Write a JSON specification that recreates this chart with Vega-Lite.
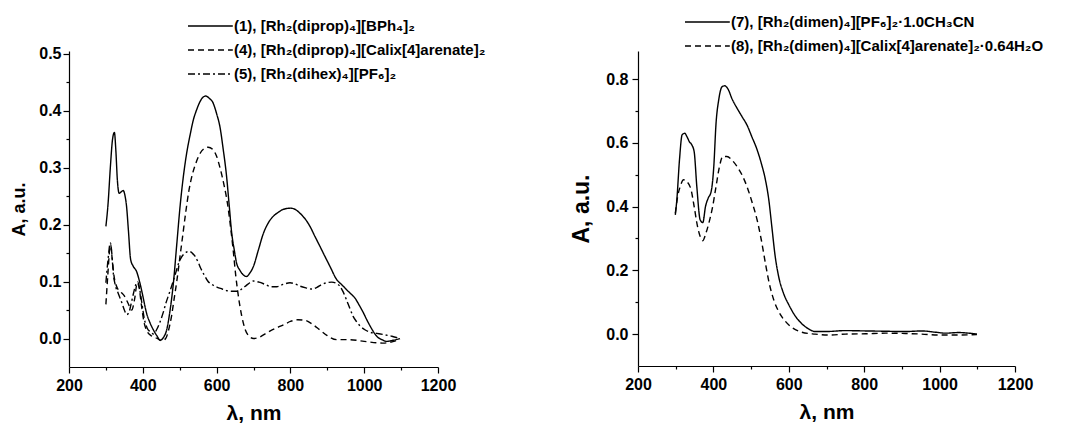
{
  "$schema": "https://vega.github.io/schema/vega-lite/v6.json",
  "padding": {"left": 10, "top": 14, "right": 0, "bottom": 0},
  "spacing": 84,
  "datasets": {
    "left": [
      {"s": "(1), [Rh₂(diprop)₄][BPh₄]₂", "x": 300, "y": 0.197},
      {"s": "(1), [Rh₂(diprop)₄][BPh₄]₂", "x": 306, "y": 0.238},
      {"s": "(1), [Rh₂(diprop)₄][BPh₄]₂", "x": 312, "y": 0.3},
      {"s": "(1), [Rh₂(diprop)₄][BPh₄]₂", "x": 318, "y": 0.35},
      {"s": "(1), [Rh₂(diprop)₄][BPh₄]₂", "x": 323, "y": 0.362},
      {"s": "(1), [Rh₂(diprop)₄][BPh₄]₂", "x": 327, "y": 0.33},
      {"s": "(1), [Rh₂(diprop)₄][BPh₄]₂", "x": 331, "y": 0.279},
      {"s": "(1), [Rh₂(diprop)₄][BPh₄]₂", "x": 336, "y": 0.255},
      {"s": "(1), [Rh₂(diprop)₄][BPh₄]₂", "x": 342, "y": 0.258},
      {"s": "(1), [Rh₂(diprop)₄][BPh₄]₂", "x": 347, "y": 0.26},
      {"s": "(1), [Rh₂(diprop)₄][BPh₄]₂", "x": 352, "y": 0.25},
      {"s": "(1), [Rh₂(diprop)₄][BPh₄]₂", "x": 356, "y": 0.232},
      {"s": "(1), [Rh₂(diprop)₄][BPh₄]₂", "x": 361, "y": 0.19},
      {"s": "(1), [Rh₂(diprop)₄][BPh₄]₂", "x": 367, "y": 0.139},
      {"s": "(1), [Rh₂(diprop)₄][BPh₄]₂", "x": 374, "y": 0.127},
      {"s": "(1), [Rh₂(diprop)₄][BPh₄]₂", "x": 383, "y": 0.118},
      {"s": "(1), [Rh₂(diprop)₄][BPh₄]₂", "x": 392, "y": 0.098},
      {"s": "(1), [Rh₂(diprop)₄][BPh₄]₂", "x": 400, "y": 0.075},
      {"s": "(1), [Rh₂(diprop)₄][BPh₄]₂", "x": 410, "y": 0.045},
      {"s": "(1), [Rh₂(diprop)₄][BPh₄]₂", "x": 420, "y": 0.027},
      {"s": "(1), [Rh₂(diprop)₄][BPh₄]₂", "x": 428, "y": 0.016},
      {"s": "(1), [Rh₂(diprop)₄][BPh₄]₂", "x": 438, "y": 0.005},
      {"s": "(1), [Rh₂(diprop)₄][BPh₄]₂", "x": 447, "y": -0.003},
      {"s": "(1), [Rh₂(diprop)₄][BPh₄]₂", "x": 456, "y": 0.002},
      {"s": "(1), [Rh₂(diprop)₄][BPh₄]₂", "x": 465, "y": 0.016},
      {"s": "(1), [Rh₂(diprop)₄][BPh₄]₂", "x": 474, "y": 0.05},
      {"s": "(1), [Rh₂(diprop)₄][BPh₄]₂", "x": 483, "y": 0.098},
      {"s": "(1), [Rh₂(diprop)₄][BPh₄]₂", "x": 492, "y": 0.165},
      {"s": "(1), [Rh₂(diprop)₄][BPh₄]₂", "x": 501, "y": 0.232},
      {"s": "(1), [Rh₂(diprop)₄][BPh₄]₂", "x": 510, "y": 0.285},
      {"s": "(1), [Rh₂(diprop)₄][BPh₄]₂", "x": 519, "y": 0.326},
      {"s": "(1), [Rh₂(diprop)₄][BPh₄]₂", "x": 528, "y": 0.357},
      {"s": "(1), [Rh₂(diprop)₄][BPh₄]₂", "x": 537, "y": 0.384},
      {"s": "(1), [Rh₂(diprop)₄][BPh₄]₂", "x": 546, "y": 0.402},
      {"s": "(1), [Rh₂(diprop)₄][BPh₄]₂", "x": 555, "y": 0.416},
      {"s": "(1), [Rh₂(diprop)₄][BPh₄]₂", "x": 562, "y": 0.423},
      {"s": "(1), [Rh₂(diprop)₄][BPh₄]₂", "x": 570, "y": 0.426},
      {"s": "(1), [Rh₂(diprop)₄][BPh₄]₂", "x": 580, "y": 0.422},
      {"s": "(1), [Rh₂(diprop)₄][BPh₄]₂", "x": 591, "y": 0.413},
      {"s": "(1), [Rh₂(diprop)₄][BPh₄]₂", "x": 600, "y": 0.395},
      {"s": "(1), [Rh₂(diprop)₄][BPh₄]₂", "x": 609, "y": 0.372},
      {"s": "(1), [Rh₂(diprop)₄][BPh₄]₂", "x": 618, "y": 0.332},
      {"s": "(1), [Rh₂(diprop)₄][BPh₄]₂", "x": 627, "y": 0.285},
      {"s": "(1), [Rh₂(diprop)₄][BPh₄]₂", "x": 634, "y": 0.235},
      {"s": "(1), [Rh₂(diprop)₄][BPh₄]₂", "x": 641, "y": 0.185},
      {"s": "(1), [Rh₂(diprop)₄][BPh₄]₂", "x": 648, "y": 0.155},
      {"s": "(1), [Rh₂(diprop)₄][BPh₄]₂", "x": 654, "y": 0.133},
      {"s": "(1), [Rh₂(diprop)₄][BPh₄]₂", "x": 663, "y": 0.12},
      {"s": "(1), [Rh₂(diprop)₄][BPh₄]₂", "x": 672, "y": 0.112},
      {"s": "(1), [Rh₂(diprop)₄][BPh₄]₂", "x": 681, "y": 0.109},
      {"s": "(1), [Rh₂(diprop)₄][BPh₄]₂", "x": 690, "y": 0.115},
      {"s": "(1), [Rh₂(diprop)₄][BPh₄]₂", "x": 700, "y": 0.127},
      {"s": "(1), [Rh₂(diprop)₄][BPh₄]₂", "x": 713, "y": 0.155},
      {"s": "(1), [Rh₂(diprop)₄][BPh₄]₂", "x": 727, "y": 0.185},
      {"s": "(1), [Rh₂(diprop)₄][BPh₄]₂", "x": 740, "y": 0.203},
      {"s": "(1), [Rh₂(diprop)₄][BPh₄]₂", "x": 754, "y": 0.215},
      {"s": "(1), [Rh₂(diprop)₄][BPh₄]₂", "x": 768, "y": 0.222},
      {"s": "(1), [Rh₂(diprop)₄][BPh₄]₂", "x": 781, "y": 0.227},
      {"s": "(1), [Rh₂(diprop)₄][BPh₄]₂", "x": 801, "y": 0.229},
      {"s": "(1), [Rh₂(diprop)₄][BPh₄]₂", "x": 815, "y": 0.226},
      {"s": "(1), [Rh₂(diprop)₄][BPh₄]₂", "x": 826, "y": 0.22},
      {"s": "(1), [Rh₂(diprop)₄][BPh₄]₂", "x": 840, "y": 0.21},
      {"s": "(1), [Rh₂(diprop)₄][BPh₄]₂", "x": 853, "y": 0.197},
      {"s": "(1), [Rh₂(diprop)₄][BPh₄]₂", "x": 866, "y": 0.18},
      {"s": "(1), [Rh₂(diprop)₄][BPh₄]₂", "x": 880, "y": 0.162},
      {"s": "(1), [Rh₂(diprop)₄][BPh₄]₂", "x": 893, "y": 0.145},
      {"s": "(1), [Rh₂(diprop)₄][BPh₄]₂", "x": 907, "y": 0.127},
      {"s": "(1), [Rh₂(diprop)₄][BPh₄]₂", "x": 925, "y": 0.104},
      {"s": "(1), [Rh₂(diprop)₄][BPh₄]₂", "x": 940, "y": 0.094},
      {"s": "(1), [Rh₂(diprop)₄][BPh₄]₂", "x": 952, "y": 0.086},
      {"s": "(1), [Rh₂(diprop)₄][BPh₄]₂", "x": 963, "y": 0.079},
      {"s": "(1), [Rh₂(diprop)₄][BPh₄]₂", "x": 975, "y": 0.071},
      {"s": "(1), [Rh₂(diprop)₄][BPh₄]₂", "x": 987, "y": 0.058},
      {"s": "(1), [Rh₂(diprop)₄][BPh₄]₂", "x": 998, "y": 0.045},
      {"s": "(1), [Rh₂(diprop)₄][BPh₄]₂", "x": 1007, "y": 0.033},
      {"s": "(1), [Rh₂(diprop)₄][BPh₄]₂", "x": 1016, "y": 0.022},
      {"s": "(1), [Rh₂(diprop)₄][BPh₄]₂", "x": 1025, "y": 0.012},
      {"s": "(1), [Rh₂(diprop)₄][BPh₄]₂", "x": 1034, "y": 0.004},
      {"s": "(1), [Rh₂(diprop)₄][BPh₄]₂", "x": 1048, "y": -0.002},
      {"s": "(1), [Rh₂(diprop)₄][BPh₄]₂", "x": 1061, "y": -0.005},
      {"s": "(1), [Rh₂(diprop)₄][BPh₄]₂", "x": 1079, "y": -0.003},
      {"s": "(1), [Rh₂(diprop)₄][BPh₄]₂", "x": 1097, "y": 0.0},

      {"s": "(4), [Rh₂(diprop)₄][Calix[4]arenate]₂", "x": 300, "y": 0.06},
      {"s": "(4), [Rh₂(diprop)₄][Calix[4]arenate]₂", "x": 305, "y": 0.11},
      {"s": "(4), [Rh₂(diprop)₄][Calix[4]arenate]₂", "x": 310, "y": 0.155},
      {"s": "(4), [Rh₂(diprop)₄][Calix[4]arenate]₂", "x": 313, "y": 0.165},
      {"s": "(4), [Rh₂(diprop)₄][Calix[4]arenate]₂", "x": 317, "y": 0.14},
      {"s": "(4), [Rh₂(diprop)₄][Calix[4]arenate]₂", "x": 322, "y": 0.11},
      {"s": "(4), [Rh₂(diprop)₄][Calix[4]arenate]₂", "x": 330, "y": 0.09},
      {"s": "(4), [Rh₂(diprop)₄][Calix[4]arenate]₂", "x": 340, "y": 0.082},
      {"s": "(4), [Rh₂(diprop)₄][Calix[4]arenate]₂", "x": 350, "y": 0.075},
      {"s": "(4), [Rh₂(diprop)₄][Calix[4]arenate]₂", "x": 360, "y": 0.062},
      {"s": "(4), [Rh₂(diprop)₄][Calix[4]arenate]₂", "x": 370, "y": 0.05},
      {"s": "(4), [Rh₂(diprop)₄][Calix[4]arenate]₂", "x": 378, "y": 0.07},
      {"s": "(4), [Rh₂(diprop)₄][Calix[4]arenate]₂", "x": 385, "y": 0.098},
      {"s": "(4), [Rh₂(diprop)₄][Calix[4]arenate]₂", "x": 390, "y": 0.09},
      {"s": "(4), [Rh₂(diprop)₄][Calix[4]arenate]₂", "x": 396, "y": 0.06},
      {"s": "(4), [Rh₂(diprop)₄][Calix[4]arenate]₂", "x": 403, "y": 0.03},
      {"s": "(4), [Rh₂(diprop)₄][Calix[4]arenate]₂", "x": 412, "y": 0.012},
      {"s": "(4), [Rh₂(diprop)₄][Calix[4]arenate]₂", "x": 425, "y": 0.004},
      {"s": "(4), [Rh₂(diprop)₄][Calix[4]arenate]₂", "x": 440, "y": 0.0},
      {"s": "(4), [Rh₂(diprop)₄][Calix[4]arenate]₂", "x": 452, "y": -0.004},
      {"s": "(4), [Rh₂(diprop)₄][Calix[4]arenate]₂", "x": 462, "y": 0.0},
      {"s": "(4), [Rh₂(diprop)₄][Calix[4]arenate]₂", "x": 470, "y": 0.015},
      {"s": "(4), [Rh₂(diprop)₄][Calix[4]arenate]₂", "x": 478, "y": 0.04},
      {"s": "(4), [Rh₂(diprop)₄][Calix[4]arenate]₂", "x": 485, "y": 0.07},
      {"s": "(4), [Rh₂(diprop)₄][Calix[4]arenate]₂", "x": 492, "y": 0.1},
      {"s": "(4), [Rh₂(diprop)₄][Calix[4]arenate]₂", "x": 500, "y": 0.14},
      {"s": "(4), [Rh₂(diprop)₄][Calix[4]arenate]₂", "x": 508, "y": 0.18},
      {"s": "(4), [Rh₂(diprop)₄][Calix[4]arenate]₂", "x": 516, "y": 0.22},
      {"s": "(4), [Rh₂(diprop)₄][Calix[4]arenate]₂", "x": 525, "y": 0.26},
      {"s": "(4), [Rh₂(diprop)₄][Calix[4]arenate]₂", "x": 535, "y": 0.29},
      {"s": "(4), [Rh₂(diprop)₄][Calix[4]arenate]₂", "x": 545, "y": 0.31},
      {"s": "(4), [Rh₂(diprop)₄][Calix[4]arenate]₂", "x": 555, "y": 0.325},
      {"s": "(4), [Rh₂(diprop)₄][Calix[4]arenate]₂", "x": 565, "y": 0.333},
      {"s": "(4), [Rh₂(diprop)₄][Calix[4]arenate]₂", "x": 577, "y": 0.336},
      {"s": "(4), [Rh₂(diprop)₄][Calix[4]arenate]₂", "x": 590, "y": 0.332},
      {"s": "(4), [Rh₂(diprop)₄][Calix[4]arenate]₂", "x": 600, "y": 0.32},
      {"s": "(4), [Rh₂(diprop)₄][Calix[4]arenate]₂", "x": 610, "y": 0.298},
      {"s": "(4), [Rh₂(diprop)₄][Calix[4]arenate]₂", "x": 620, "y": 0.27},
      {"s": "(4), [Rh₂(diprop)₄][Calix[4]arenate]₂", "x": 630, "y": 0.235},
      {"s": "(4), [Rh₂(diprop)₄][Calix[4]arenate]₂", "x": 638, "y": 0.195},
      {"s": "(4), [Rh₂(diprop)₄][Calix[4]arenate]₂", "x": 645, "y": 0.155},
      {"s": "(4), [Rh₂(diprop)₄][Calix[4]arenate]₂", "x": 652, "y": 0.11},
      {"s": "(4), [Rh₂(diprop)₄][Calix[4]arenate]₂", "x": 660, "y": 0.07},
      {"s": "(4), [Rh₂(diprop)₄][Calix[4]arenate]₂", "x": 668, "y": 0.04},
      {"s": "(4), [Rh₂(diprop)₄][Calix[4]arenate]₂", "x": 678, "y": 0.015},
      {"s": "(4), [Rh₂(diprop)₄][Calix[4]arenate]₂", "x": 690, "y": 0.003},
      {"s": "(4), [Rh₂(diprop)₄][Calix[4]arenate]₂", "x": 700, "y": 0.0},
      {"s": "(4), [Rh₂(diprop)₄][Calix[4]arenate]₂", "x": 715, "y": 0.002},
      {"s": "(4), [Rh₂(diprop)₄][Calix[4]arenate]₂", "x": 736, "y": 0.01},
      {"s": "(4), [Rh₂(diprop)₄][Calix[4]arenate]₂", "x": 760, "y": 0.018},
      {"s": "(4), [Rh₂(diprop)₄][Calix[4]arenate]₂", "x": 781, "y": 0.024},
      {"s": "(4), [Rh₂(diprop)₄][Calix[4]arenate]₂", "x": 800, "y": 0.03},
      {"s": "(4), [Rh₂(diprop)₄][Calix[4]arenate]₂", "x": 820, "y": 0.033},
      {"s": "(4), [Rh₂(diprop)₄][Calix[4]arenate]₂", "x": 840, "y": 0.032},
      {"s": "(4), [Rh₂(diprop)₄][Calix[4]arenate]₂", "x": 860, "y": 0.025},
      {"s": "(4), [Rh₂(diprop)₄][Calix[4]arenate]₂", "x": 880, "y": 0.015},
      {"s": "(4), [Rh₂(diprop)₄][Calix[4]arenate]₂", "x": 900, "y": 0.005},
      {"s": "(4), [Rh₂(diprop)₄][Calix[4]arenate]₂", "x": 925, "y": -0.002},
      {"s": "(4), [Rh₂(diprop)₄][Calix[4]arenate]₂", "x": 960, "y": -0.002},
      {"s": "(4), [Rh₂(diprop)₄][Calix[4]arenate]₂", "x": 1000, "y": -0.005},
      {"s": "(4), [Rh₂(diprop)₄][Calix[4]arenate]₂", "x": 1050, "y": -0.008},
      {"s": "(4), [Rh₂(diprop)₄][Calix[4]arenate]₂", "x": 1080, "y": -0.005},
      {"s": "(4), [Rh₂(diprop)₄][Calix[4]arenate]₂", "x": 1097, "y": 0.0},

      {"s": "(5), [Rh₂(dihex)₄][PF₆]₂", "x": 300, "y": 0.098},
      {"s": "(5), [Rh₂(dihex)₄][PF₆]₂", "x": 306, "y": 0.14},
      {"s": "(5), [Rh₂(dihex)₄][PF₆]₂", "x": 312, "y": 0.168},
      {"s": "(5), [Rh₂(dihex)₄][PF₆]₂", "x": 316, "y": 0.15},
      {"s": "(5), [Rh₂(dihex)₄][PF₆]₂", "x": 320, "y": 0.115},
      {"s": "(5), [Rh₂(dihex)₄][PF₆]₂", "x": 325, "y": 0.095},
      {"s": "(5), [Rh₂(dihex)₄][PF₆]₂", "x": 333, "y": 0.08},
      {"s": "(5), [Rh₂(dihex)₄][PF₆]₂", "x": 342, "y": 0.065},
      {"s": "(5), [Rh₂(dihex)₄][PF₆]₂", "x": 350, "y": 0.05},
      {"s": "(5), [Rh₂(dihex)₄][PF₆]₂", "x": 356, "y": 0.042},
      {"s": "(5), [Rh₂(dihex)₄][PF₆]₂", "x": 362, "y": 0.045},
      {"s": "(5), [Rh₂(dihex)₄][PF₆]₂", "x": 368, "y": 0.06},
      {"s": "(5), [Rh₂(dihex)₄][PF₆]₂", "x": 375, "y": 0.08},
      {"s": "(5), [Rh₂(dihex)₄][PF₆]₂", "x": 381, "y": 0.095},
      {"s": "(5), [Rh₂(dihex)₄][PF₆]₂", "x": 386, "y": 0.1},
      {"s": "(5), [Rh₂(dihex)₄][PF₆]₂", "x": 392, "y": 0.085},
      {"s": "(5), [Rh₂(dihex)₄][PF₆]₂", "x": 398, "y": 0.06},
      {"s": "(5), [Rh₂(dihex)₄][PF₆]₂", "x": 404, "y": 0.035},
      {"s": "(5), [Rh₂(dihex)₄][PF₆]₂", "x": 412, "y": 0.018},
      {"s": "(5), [Rh₂(dihex)₄][PF₆]₂", "x": 420, "y": 0.012},
      {"s": "(5), [Rh₂(dihex)₄][PF₆]₂", "x": 429, "y": 0.008},
      {"s": "(5), [Rh₂(dihex)₄][PF₆]₂", "x": 437, "y": 0.015},
      {"s": "(5), [Rh₂(dihex)₄][PF₆]₂", "x": 446, "y": 0.028},
      {"s": "(5), [Rh₂(dihex)₄][PF₆]₂", "x": 455, "y": 0.045},
      {"s": "(5), [Rh₂(dihex)₄][PF₆]₂", "x": 463, "y": 0.063},
      {"s": "(5), [Rh₂(dihex)₄][PF₆]₂", "x": 472, "y": 0.08},
      {"s": "(5), [Rh₂(dihex)₄][PF₆]₂", "x": 481, "y": 0.098},
      {"s": "(5), [Rh₂(dihex)₄][PF₆]₂", "x": 490, "y": 0.117},
      {"s": "(5), [Rh₂(dihex)₄][PF₆]₂", "x": 498, "y": 0.134},
      {"s": "(5), [Rh₂(dihex)₄][PF₆]₂", "x": 505, "y": 0.143},
      {"s": "(5), [Rh₂(dihex)₄][PF₆]₂", "x": 511, "y": 0.148},
      {"s": "(5), [Rh₂(dihex)₄][PF₆]₂", "x": 519, "y": 0.152},
      {"s": "(5), [Rh₂(dihex)₄][PF₆]₂", "x": 526, "y": 0.153},
      {"s": "(5), [Rh₂(dihex)₄][PF₆]₂", "x": 534, "y": 0.15},
      {"s": "(5), [Rh₂(dihex)₄][PF₆]₂", "x": 541, "y": 0.145},
      {"s": "(5), [Rh₂(dihex)₄][PF₆]₂", "x": 550, "y": 0.134},
      {"s": "(5), [Rh₂(dihex)₄][PF₆]₂", "x": 558, "y": 0.122},
      {"s": "(5), [Rh₂(dihex)₄][PF₆]₂", "x": 567, "y": 0.111},
      {"s": "(5), [Rh₂(dihex)₄][PF₆]₂", "x": 576, "y": 0.101},
      {"s": "(5), [Rh₂(dihex)₄][PF₆]₂", "x": 590, "y": 0.094},
      {"s": "(5), [Rh₂(dihex)₄][PF₆]₂", "x": 602, "y": 0.09},
      {"s": "(5), [Rh₂(dihex)₄][PF₆]₂", "x": 615, "y": 0.087},
      {"s": "(5), [Rh₂(dihex)₄][PF₆]₂", "x": 628, "y": 0.084},
      {"s": "(5), [Rh₂(dihex)₄][PF₆]₂", "x": 643, "y": 0.083},
      {"s": "(5), [Rh₂(dihex)₄][PF₆]₂", "x": 658, "y": 0.083},
      {"s": "(5), [Rh₂(dihex)₄][PF₆]₂", "x": 670, "y": 0.088},
      {"s": "(5), [Rh₂(dihex)₄][PF₆]₂", "x": 680, "y": 0.093},
      {"s": "(5), [Rh₂(dihex)₄][PF₆]₂", "x": 690, "y": 0.098},
      {"s": "(5), [Rh₂(dihex)₄][PF₆]₂", "x": 699, "y": 0.101},
      {"s": "(5), [Rh₂(dihex)₄][PF₆]₂", "x": 715, "y": 0.099},
      {"s": "(5), [Rh₂(dihex)₄][PF₆]₂", "x": 732, "y": 0.095},
      {"s": "(5), [Rh₂(dihex)₄][PF₆]₂", "x": 748, "y": 0.091},
      {"s": "(5), [Rh₂(dihex)₄][PF₆]₂", "x": 763, "y": 0.091},
      {"s": "(5), [Rh₂(dihex)₄][PF₆]₂", "x": 780, "y": 0.095},
      {"s": "(5), [Rh₂(dihex)₄][PF₆]₂", "x": 799, "y": 0.098},
      {"s": "(5), [Rh₂(dihex)₄][PF₆]₂", "x": 812, "y": 0.096},
      {"s": "(5), [Rh₂(dihex)₄][PF₆]₂", "x": 826, "y": 0.092},
      {"s": "(5), [Rh₂(dihex)₄][PF₆]₂", "x": 842, "y": 0.089},
      {"s": "(5), [Rh₂(dihex)₄][PF₆]₂", "x": 858, "y": 0.087},
      {"s": "(5), [Rh₂(dihex)₄][PF₆]₂", "x": 872, "y": 0.09},
      {"s": "(5), [Rh₂(dihex)₄][PF₆]₂", "x": 885, "y": 0.095},
      {"s": "(5), [Rh₂(dihex)₄][PF₆]₂", "x": 898, "y": 0.098},
      {"s": "(5), [Rh₂(dihex)₄][PF₆]₂", "x": 912, "y": 0.099},
      {"s": "(5), [Rh₂(dihex)₄][PF₆]₂", "x": 924, "y": 0.097},
      {"s": "(5), [Rh₂(dihex)₄][PF₆]₂", "x": 934, "y": 0.092},
      {"s": "(5), [Rh₂(dihex)₄][PF₆]₂", "x": 943, "y": 0.082},
      {"s": "(5), [Rh₂(dihex)₄][PF₆]₂", "x": 952, "y": 0.068},
      {"s": "(5), [Rh₂(dihex)₄][PF₆]₂", "x": 961, "y": 0.053},
      {"s": "(5), [Rh₂(dihex)₄][PF₆]₂", "x": 970, "y": 0.039},
      {"s": "(5), [Rh₂(dihex)₄][PF₆]₂", "x": 980, "y": 0.029},
      {"s": "(5), [Rh₂(dihex)₄][PF₆]₂", "x": 989, "y": 0.022},
      {"s": "(5), [Rh₂(dihex)₄][PF₆]₂", "x": 1003, "y": 0.015},
      {"s": "(5), [Rh₂(dihex)₄][PF₆]₂", "x": 1016, "y": 0.011},
      {"s": "(5), [Rh₂(dihex)₄][PF₆]₂", "x": 1034, "y": 0.009},
      {"s": "(5), [Rh₂(dihex)₄][PF₆]₂", "x": 1052, "y": 0.007},
      {"s": "(5), [Rh₂(dihex)₄][PF₆]₂", "x": 1075, "y": 0.004},
      {"s": "(5), [Rh₂(dihex)₄][PF₆]₂", "x": 1097, "y": 0.0}
    ],
    "right": [
      {"s": "(7), [Rh₂(dimen)₄][PF₆]₂·1.0CH₃CN", "x": 299, "y": 0.374},
      {"s": "(7), [Rh₂(dimen)₄][PF₆]₂·1.0CH₃CN", "x": 303, "y": 0.421},
      {"s": "(7), [Rh₂(dimen)₄][PF₆]₂·1.0CH₃CN", "x": 310, "y": 0.546},
      {"s": "(7), [Rh₂(dimen)₄][PF₆]₂·1.0CH₃CN", "x": 317, "y": 0.625},
      {"s": "(7), [Rh₂(dimen)₄][PF₆]₂·1.0CH₃CN", "x": 324, "y": 0.63},
      {"s": "(7), [Rh₂(dimen)₄][PF₆]₂·1.0CH₃CN", "x": 330, "y": 0.619},
      {"s": "(7), [Rh₂(dimen)₄][PF₆]₂·1.0CH₃CN", "x": 336, "y": 0.604},
      {"s": "(7), [Rh₂(dimen)₄][PF₆]₂·1.0CH₃CN", "x": 343, "y": 0.593},
      {"s": "(7), [Rh₂(dimen)₄][PF₆]₂·1.0CH₃CN", "x": 349, "y": 0.572},
      {"s": "(7), [Rh₂(dimen)₄][PF₆]₂·1.0CH₃CN", "x": 356, "y": 0.463},
      {"s": "(7), [Rh₂(dimen)₄][PF₆]₂·1.0CH₃CN", "x": 365, "y": 0.358},
      {"s": "(7), [Rh₂(dimen)₄][PF₆]₂·1.0CH₃CN", "x": 372, "y": 0.35},
      {"s": "(7), [Rh₂(dimen)₄][PF₆]₂·1.0CH₃CN", "x": 379, "y": 0.4},
      {"s": "(7), [Rh₂(dimen)₄][PF₆]₂·1.0CH₃CN", "x": 386, "y": 0.426},
      {"s": "(7), [Rh₂(dimen)₄][PF₆]₂·1.0CH₃CN", "x": 394, "y": 0.447},
      {"s": "(7), [Rh₂(dimen)₄][PF₆]₂·1.0CH₃CN", "x": 401, "y": 0.525},
      {"s": "(7), [Rh₂(dimen)₄][PF₆]₂·1.0CH₃CN", "x": 407, "y": 0.661},
      {"s": "(7), [Rh₂(dimen)₄][PF₆]₂·1.0CH₃CN", "x": 414, "y": 0.734},
      {"s": "(7), [Rh₂(dimen)₄][PF₆]₂·1.0CH₃CN", "x": 423, "y": 0.776},
      {"s": "(7), [Rh₂(dimen)₄][PF₆]₂·1.0CH₃CN", "x": 430, "y": 0.779},
      {"s": "(7), [Rh₂(dimen)₄][PF₆]₂·1.0CH₃CN", "x": 439, "y": 0.768},
      {"s": "(7), [Rh₂(dimen)₄][PF₆]₂·1.0CH₃CN", "x": 449, "y": 0.739},
      {"s": "(7), [Rh₂(dimen)₄][PF₆]₂·1.0CH₃CN", "x": 463, "y": 0.708},
      {"s": "(7), [Rh₂(dimen)₄][PF₆]₂·1.0CH₃CN", "x": 476, "y": 0.682},
      {"s": "(7), [Rh₂(dimen)₄][PF₆]₂·1.0CH₃CN", "x": 489, "y": 0.656},
      {"s": "(7), [Rh₂(dimen)₄][PF₆]₂·1.0CH₃CN", "x": 502, "y": 0.619},
      {"s": "(7), [Rh₂(dimen)₄][PF₆]₂·1.0CH₃CN", "x": 516, "y": 0.578},
      {"s": "(7), [Rh₂(dimen)₄][PF₆]₂·1.0CH₃CN", "x": 527, "y": 0.536},
      {"s": "(7), [Rh₂(dimen)₄][PF₆]₂·1.0CH₃CN", "x": 538, "y": 0.484},
      {"s": "(7), [Rh₂(dimen)₄][PF₆]₂·1.0CH₃CN", "x": 547, "y": 0.421},
      {"s": "(7), [Rh₂(dimen)₄][PF₆]₂·1.0CH₃CN", "x": 555, "y": 0.337},
      {"s": "(7), [Rh₂(dimen)₄][PF₆]₂·1.0CH₃CN", "x": 564, "y": 0.243},
      {"s": "(7), [Rh₂(dimen)₄][PF₆]₂·1.0CH₃CN", "x": 573, "y": 0.181},
      {"s": "(7), [Rh₂(dimen)₄][PF₆]₂·1.0CH₃CN", "x": 586, "y": 0.128},
      {"s": "(7), [Rh₂(dimen)₄][PF₆]₂·1.0CH₃CN", "x": 600, "y": 0.092},
      {"s": "(7), [Rh₂(dimen)₄][PF₆]₂·1.0CH₃CN", "x": 617, "y": 0.057},
      {"s": "(7), [Rh₂(dimen)₄][PF₆]₂·1.0CH₃CN", "x": 635, "y": 0.032},
      {"s": "(7), [Rh₂(dimen)₄][PF₆]₂·1.0CH₃CN", "x": 653, "y": 0.016},
      {"s": "(7), [Rh₂(dimen)₄][PF₆]₂·1.0CH₃CN", "x": 670, "y": 0.008},
      {"s": "(7), [Rh₂(dimen)₄][PF₆]₂·1.0CH₃CN", "x": 697, "y": 0.008},
      {"s": "(7), [Rh₂(dimen)₄][PF₆]₂·1.0CH₃CN", "x": 750, "y": 0.011},
      {"s": "(7), [Rh₂(dimen)₄][PF₆]₂·1.0CH₃CN", "x": 803, "y": 0.01},
      {"s": "(7), [Rh₂(dimen)₄][PF₆]₂·1.0CH₃CN", "x": 856, "y": 0.009},
      {"s": "(7), [Rh₂(dimen)₄][PF₆]₂·1.0CH₃CN", "x": 909, "y": 0.008},
      {"s": "(7), [Rh₂(dimen)₄][PF₆]₂·1.0CH₃CN", "x": 953, "y": 0.01},
      {"s": "(7), [Rh₂(dimen)₄][PF₆]₂·1.0CH₃CN", "x": 989, "y": 0.006},
      {"s": "(7), [Rh₂(dimen)₄][PF₆]₂·1.0CH₃CN", "x": 1015, "y": 0.003},
      {"s": "(7), [Rh₂(dimen)₄][PF₆]₂·1.0CH₃CN", "x": 1051, "y": 0.005},
      {"s": "(7), [Rh₂(dimen)₄][PF₆]₂·1.0CH₃CN", "x": 1077, "y": 0.003},
      {"s": "(7), [Rh₂(dimen)₄][PF₆]₂·1.0CH₃CN", "x": 1099, "y": 0.0},

      {"s": "(8), [Rh₂(dimen)₄][Calix[4]arenate]₂·0.64H₂O", "x": 299, "y": 0.379},
      {"s": "(8), [Rh₂(dimen)₄][Calix[4]arenate]₂·0.64H₂O", "x": 305, "y": 0.43},
      {"s": "(8), [Rh₂(dimen)₄][Calix[4]arenate]₂·0.64H₂O", "x": 312, "y": 0.463},
      {"s": "(8), [Rh₂(dimen)₄][Calix[4]arenate]₂·0.64H₂O", "x": 321, "y": 0.484},
      {"s": "(8), [Rh₂(dimen)₄][Calix[4]arenate]₂·0.64H₂O", "x": 330, "y": 0.478},
      {"s": "(8), [Rh₂(dimen)₄][Calix[4]arenate]₂·0.64H₂O", "x": 341, "y": 0.452},
      {"s": "(8), [Rh₂(dimen)₄][Calix[4]arenate]₂·0.64H₂O", "x": 349, "y": 0.4},
      {"s": "(8), [Rh₂(dimen)₄][Calix[4]arenate]₂·0.64H₂O", "x": 358, "y": 0.337},
      {"s": "(8), [Rh₂(dimen)₄][Calix[4]arenate]₂·0.64H₂O", "x": 365, "y": 0.306},
      {"s": "(8), [Rh₂(dimen)₄][Calix[4]arenate]₂·0.64H₂O", "x": 372, "y": 0.293},
      {"s": "(8), [Rh₂(dimen)₄][Calix[4]arenate]₂·0.64H₂O", "x": 380, "y": 0.316},
      {"s": "(8), [Rh₂(dimen)₄][Calix[4]arenate]₂·0.64H₂O", "x": 389, "y": 0.353},
      {"s": "(8), [Rh₂(dimen)₄][Calix[4]arenate]₂·0.64H₂O", "x": 398, "y": 0.4},
      {"s": "(8), [Rh₂(dimen)₄][Calix[4]arenate]₂·0.64H₂O", "x": 407, "y": 0.463},
      {"s": "(8), [Rh₂(dimen)₄][Calix[4]arenate]₂·0.64H₂O", "x": 416, "y": 0.525},
      {"s": "(8), [Rh₂(dimen)₄][Calix[4]arenate]₂·0.64H₂O", "x": 425, "y": 0.557},
      {"s": "(8), [Rh₂(dimen)₄][Calix[4]arenate]₂·0.64H₂O", "x": 436, "y": 0.557},
      {"s": "(8), [Rh₂(dimen)₄][Calix[4]arenate]₂·0.64H₂O", "x": 449, "y": 0.546},
      {"s": "(8), [Rh₂(dimen)₄][Calix[4]arenate]₂·0.64H₂O", "x": 463, "y": 0.525},
      {"s": "(8), [Rh₂(dimen)₄][Calix[4]arenate]₂·0.64H₂O", "x": 476, "y": 0.499},
      {"s": "(8), [Rh₂(dimen)₄][Calix[4]arenate]₂·0.64H₂O", "x": 489, "y": 0.463},
      {"s": "(8), [Rh₂(dimen)₄][Calix[4]arenate]₂·0.64H₂O", "x": 502, "y": 0.416},
      {"s": "(8), [Rh₂(dimen)₄][Calix[4]arenate]₂·0.64H₂O", "x": 516, "y": 0.358},
      {"s": "(8), [Rh₂(dimen)₄][Calix[4]arenate]₂·0.64H₂O", "x": 527, "y": 0.296},
      {"s": "(8), [Rh₂(dimen)₄][Calix[4]arenate]₂·0.64H₂O", "x": 538, "y": 0.222},
      {"s": "(8), [Rh₂(dimen)₄][Calix[4]arenate]₂·0.64H₂O", "x": 548, "y": 0.16},
      {"s": "(8), [Rh₂(dimen)₄][Calix[4]arenate]₂·0.64H₂O", "x": 560, "y": 0.108},
      {"s": "(8), [Rh₂(dimen)₄][Calix[4]arenate]₂·0.64H₂O", "x": 573, "y": 0.071},
      {"s": "(8), [Rh₂(dimen)₄][Calix[4]arenate]₂·0.64H₂O", "x": 591, "y": 0.04},
      {"s": "(8), [Rh₂(dimen)₄][Calix[4]arenate]₂·0.64H₂O", "x": 608, "y": 0.021},
      {"s": "(8), [Rh₂(dimen)₄][Calix[4]arenate]₂·0.64H₂O", "x": 635, "y": 0.006},
      {"s": "(8), [Rh₂(dimen)₄][Calix[4]arenate]₂·0.64H₂O", "x": 670, "y": 0.0},
      {"s": "(8), [Rh₂(dimen)₄][Calix[4]arenate]₂·0.64H₂O", "x": 706, "y": -0.003},
      {"s": "(8), [Rh₂(dimen)₄][Calix[4]arenate]₂·0.64H₂O", "x": 750, "y": 0.0},
      {"s": "(8), [Rh₂(dimen)₄][Calix[4]arenate]₂·0.64H₂O", "x": 803, "y": 0.001},
      {"s": "(8), [Rh₂(dimen)₄][Calix[4]arenate]₂·0.64H₂O", "x": 856, "y": 0.003},
      {"s": "(8), [Rh₂(dimen)₄][Calix[4]arenate]₂·0.64H₂O", "x": 909, "y": 0.002},
      {"s": "(8), [Rh₂(dimen)₄][Calix[4]arenate]₂·0.64H₂O", "x": 953, "y": 0.0},
      {"s": "(8), [Rh₂(dimen)₄][Calix[4]arenate]₂·0.64H₂O", "x": 997, "y": -0.003},
      {"s": "(8), [Rh₂(dimen)₄][Calix[4]arenate]₂·0.64H₂O", "x": 1051, "y": -0.003},
      {"s": "(8), [Rh₂(dimen)₄][Calix[4]arenate]₂·0.64H₂O", "x": 1099, "y": -0.001}
    ]
  },
  "hconcat": [
    {
      "width": 369,
      "height": 316,
      "data": {"name": "left"},
      "mark": {"type": "line", "color": "black", "strokeWidth": 1.4, "interpolate": "monotone"},
      "encoding": {
        "x": {
          "field": "x", "type": "quantitative",
          "scale": {"domain": [200, 1200], "nice": false, "zero": false},
          "axis": {
            "values": [200, 300, 400, 500, 600, 700, 800, 900, 1000, 1100, 1200],
            "format": "d",
            "labelExpr": "datum.value % 200 === 0 ? datum.label : ''",
            "tickSize": {"condition": {"test": "datum.value % 200 !== 0", "value": 3}, "value": 6},
            "title": "λ, nm", "titleFontSize": 21, "titlePadding": 9, "labelPadding": 4
          }
        },
        "y": {
          "field": "y", "type": "quantitative",
          "scale": {"domain": [-0.05, 0.505], "nice": false, "zero": false},
          "axis": {
            "values": [0, 0.05, 0.1, 0.15, 0.2, 0.25, 0.3, 0.35, 0.4, 0.45, 0.5],
            "format": ".1f",
            "labelExpr": "round(datum.value * 100) % 10 === 0 ? datum.label : ''",
            "tickSize": {"condition": {"test": "round(datum.value * 100) % 10 !== 0", "value": 3}, "value": 6},
            "title": "A, a.u.", "titleFontSize": 18, "titlePadding": 10, "labelPadding": 2
          }
        },
        "strokeDash": {
          "field": "s", "type": "nominal",
          "scale": {
            "domain": ["(1), [Rh₂(diprop)₄][BPh₄]₂", "(4), [Rh₂(diprop)₄][Calix[4]arenate]₂", "(5), [Rh₂(dihex)₄][PF₆]₂"],
            "range": [[1, 0], [6, 4], [7, 3, 2, 3]]
          },
          "legend": {"orient": "none", "legendX": 118, "legendY": -33}
        }
      }
    },
    {
      "width": 377,
      "height": 315,
      "data": {"name": "right"},
      "mark": {"type": "line", "color": "black", "strokeWidth": 1.4, "interpolate": "monotone"},
      "encoding": {
        "x": {
          "field": "x", "type": "quantitative",
          "scale": {"domain": [200, 1200], "nice": false, "zero": false},
          "axis": {
            "values": [200, 300, 400, 500, 600, 700, 800, 900, 1000, 1100, 1200],
            "format": "d",
            "labelExpr": "datum.value % 200 === 0 ? datum.label : ''",
            "tickSize": {"condition": {"test": "datum.value % 200 !== 0", "value": 3}, "value": 6},
            "title": "λ, nm", "titleFontSize": 21, "titlePadding": 9, "labelPadding": 4
          }
        },
        "y": {
          "field": "y", "type": "quantitative",
          "scale": {"domain": [-0.1, 0.888], "nice": false, "zero": false},
          "axis": {
            "values": [0, 0.1, 0.2, 0.3, 0.4, 0.5, 0.6, 0.7, 0.8],
            "format": ".1f",
            "labelExpr": "round(datum.value * 10) % 2 === 0 ? datum.label : ''",
            "tickSize": {"condition": {"test": "round(datum.value * 10) % 2 !== 0", "value": 3}, "value": 6},
            "title": "A, a.u.", "titleFontSize": 23, "titlePadding": 12, "labelPadding": 4
          }
        },
        "strokeDash": {
          "field": "s", "type": "nominal",
          "scale": {
            "domain": ["(7), [Rh₂(dimen)₄][PF₆]₂·1.0CH₃CN", "(8), [Rh₂(dimen)₄][Calix[4]arenate]₂·0.64H₂O"],
            "range": [[1, 0], [6, 4]]
          },
          "legend": {"orient": "none", "legendX": 46, "legendY": -37}
        }
      }
    }
  ],
  "resolve": {"scale": {"strokeDash": "independent"}, "legend": {"strokeDash": "independent"}},
  "config": {
    "view": {"stroke": null},
    "axis": {
      "grid": false,
      "labelFont": "Liberation Sans", "labelFontWeight": "bold", "labelFontSize": 16, "labelColor": "black",
      "titleFont": "Liberation Sans", "titleFontWeight": "bold", "titleColor": "black",
      "domainColor": "black", "domainWidth": 1.2, "tickColor": "black", "tickWidth": 1.2,
      "labelOverlap": false, "labelFlush": false
    },
    "legend": {
      "title": null,
      "symbolType": "M-1,0H5.4", "symbolSize": 196, "symbolStrokeWidth": 1.4, "symbolStrokeColor": "black", "symbolFillColor": "transparent",
      "labelFont": "Liberation Sans", "labelFontWeight": "bold", "labelFontSize": 15, "labelColor": "black",
      "labelLimit": 600, "rowPadding": 8, "labelOffset": 31, "padding": 0
    }
  }
}
